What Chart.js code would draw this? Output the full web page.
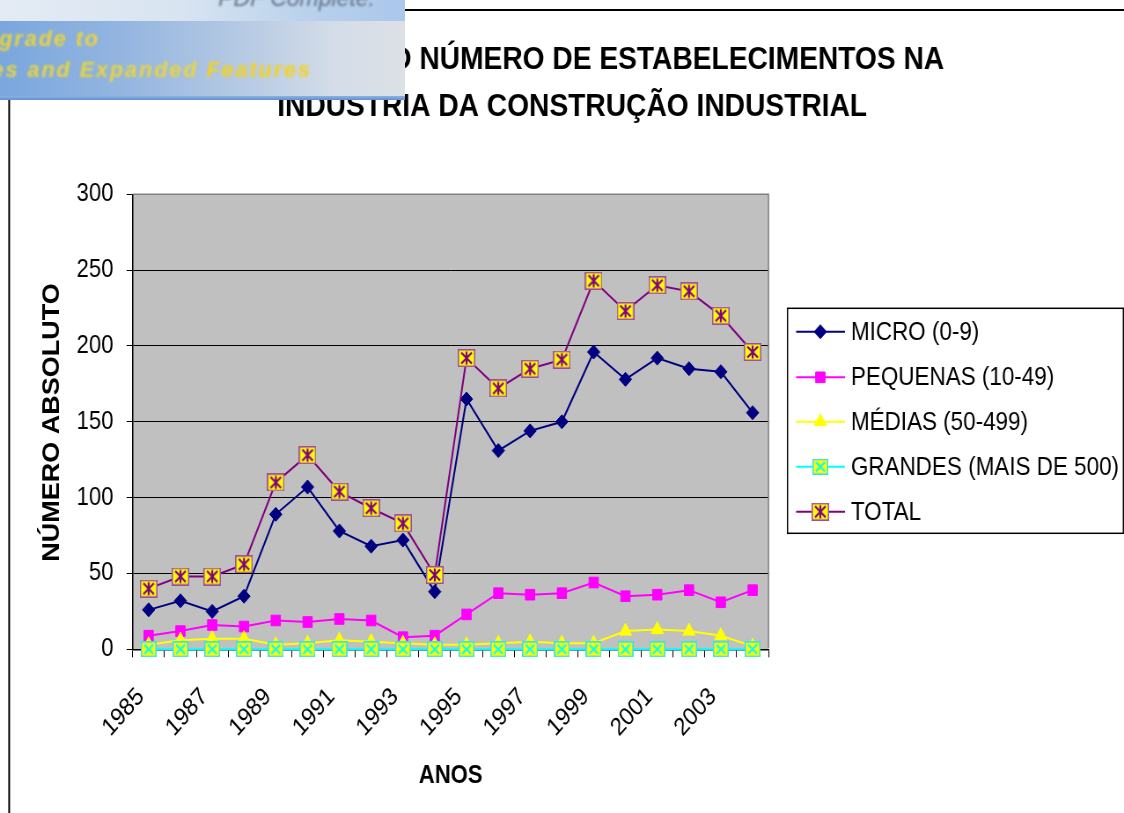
<!DOCTYPE html>
<html lang="pt">
<head>
<meta charset="utf-8">
<title>Evolução do número de estabelecimentos</title>
<script src="https://cdn.jsdelivr.net/npm/chart.js@4.4.1/dist/chart.umd.min.js"></script>
<style>
  html, body { margin: 0; padding: 0; background: #fff; overflow: hidden; }
  #stage { position: absolute; left: 0; top: 0; width: 1124px; height: 813px; overflow: hidden; }
  /* the whole drawing is laid out on a wider canvas and narrowed horizontally */
  #wrap { position: absolute; left: 0; top: 0; width: 1277px; height: 813px;
          transform: scaleX(0.88019); transform-origin: 0 0; }
  #banner { position: absolute; left: 0; top: 0; width: 405px; height: 100px; overflow: hidden;
            font-family: 'Liberation Sans', Arial, sans-serif; }
  #banner .band-top { position: absolute; left: 0; top: 0; width: 405px; height: 21px;
            background: linear-gradient(to right, #e4ebf4 0%, #d8e4f1 45%, #b6cfec 80%, #abc7ea 100%); }
  #banner .band-mid { position: absolute; left: 0; top: 21px; width: 405px; height: 76px;
            background: linear-gradient(to right, #7aa7de 0%, #93b5e0 30%, #b6cae3 60%, #d3dce8 82%, #dde1e6 100%); }
  #banner .band-low { position: absolute; left: 0; top: 96px; width: 405px; height: 4px;
            background: linear-gradient(to bottom, #8db2e2, #5f90d3); }
  #banner span { position: absolute; white-space: nowrap; filter: blur(0.8px); }
  #banner .pdfc { right: 30px; top: -15px; font-size: 23px; font-style: italic; color: #66768c; }
  #banner .l1 { right: 305px; top: 27px; font-size: 21.5px; font-weight: bold; font-style: italic;
                letter-spacing: 2px; color: #ecd43a; }
  #banner .l2 { right: 93px; top: 58px; font-size: 21.5px; font-weight: bold; font-style: italic;
                letter-spacing: 2px; color: #e9d53e; }
  #banner .l2 b { color: #f4d21e; filter: blur(0.6px); }
</style>
</head>
<body>
<div id="stage">
  <div id="wrap"><canvas id="chart" width="1277" height="813"></canvas></div>
  <div id="banner">
    <div class="band-top"></div>
    <div class="band-mid"></div>
    <div class="band-low"></div>
    <span class="pdfc">PDF Complete.</span>
    <span class="l1">Click Here to upgrade to</span>
    <span class="l2">Unlimited Pages and Expanded <b>Features</b></span>
  </div>
</div>
<script>
// ---- data ----
const years = ['1985', '1986', '1987', '1988', '1989', '1990', '1991', '1992', '1993', '1994',
               '1995', '1996', '1997', '1998', '1999', '2000', '2001', '2002', '2003', '2004'];
const micro    = [26, 32, 25, 35, 89, 107, 78, 68, 72, 38, 165, 131, 144, 150, 196, 178, 192, 185, 183, 156];
const pequenas = [9, 12, 16, 15, 19, 18, 20, 19, 8, 9, 23, 37, 36, 37, 44, 35, 36, 39, 31, 39];
const medias   = [3, 6, 7, 7, 3, 4, 6, 5, 4, 3, 3, 4, 5, 4, 4, 12, 13, 12, 9, 2];
const grandes  = [0, 0, 0, 0, 0, 0, 0, 0, 0, 0, 0, 0, 0, 0, 0, 0, 0, 0, 0, 0];
const total    = [40, 48, 48, 56, 110, 128, 104, 93, 83, 49, 192, 172, 185, 191, 243, 223, 240, 236, 220, 196];
const seriesNames = ['MICRO (0-9)', 'PEQUENAS (10-49)', 'MÉDIAS (50-499)', 'GRANDES (MAIS DE 500)', 'TOTAL'];
const yTickValues = [0, 50, 100, 150, 200, 250, 300];
const titleLines = ['EVOLUÇÃO DO NÚMERO DE ESTABELECIMENTOS NA', 'INDÚSTRIA DA CONSTRUÇÃO INDUSTRIAL'];
const xTitle = 'ANOS';
const yTitle = 'NÚMERO ABSOLUTO';

const FONT = "'Liberation Sans', Arial, Helvetica, sans-serif";
const W = 1277, H = 813;

// square markers with a cross (and an optional vertical bar)
function boxMarker(w, h, fill, edge, cross, bar) {
  const c = document.createElement('canvas');
  c.width = w; c.height = h;
  const g = c.getContext('2d');
  g.fillStyle = fill;
  g.fillRect(0, 0, w, h);
  g.strokeStyle = edge;
  g.lineWidth = 1.5;
  g.strokeRect(0.75, 0.75, w - 1.5, h - 1.5);
  g.strokeStyle = cross;
  g.lineWidth = 2.2;
  g.beginPath();
  g.moveTo(4, 3.5); g.lineTo(w - 4, h - 3.5);
  g.moveTo(w - 4, 3.5); g.lineTo(4, h - 3.5);
  if (bar) { g.moveTo(w / 2, 2.5); g.lineTo(w / 2, h - 2.5); }
  g.stroke();
  return c;
}
const grandesMark = boxMarker(18, 16, '#FFFF00', '#33E6E6', '#00FFFF', false);
const totalMark = boxMarker(20, 18, '#FFFF00', '#A04CA0', '#800080', true);

const datasets = [
  { label: seriesNames[0], data: micro, borderColor: '#000080', backgroundColor: '#000080',
    pointStyle: 'rectRot', pointRadius: 7, order: 4 },
  { label: seriesNames[1], data: pequenas, borderColor: '#FF00FF', backgroundColor: '#FF00FF',
    pointStyle: 'rect', pointRadius: 7.5, order: 3 },
  { label: seriesNames[2], data: medias, borderColor: '#FFFF00', backgroundColor: '#FFFF00',
    pointStyle: 'triangle', pointRadius: 8, order: 2 },
  { label: seriesNames[3], data: grandes, borderColor: '#00FFFF', backgroundColor: '#FFFF00',
    pointStyle: grandesMark, pointRadius: 9, order: 1 },
  { label: seriesNames[4], data: total, borderColor: '#800080', backgroundColor: '#FFFF00',
    pointStyle: totalMark, pointRadius: 10, order: 0 }
].map(d => Object.assign({
  borderWidth: 2, pointBorderWidth: 1, pointBorderColor: d.borderColor,
  pointBackgroundColor: d.backgroundColor, tension: 0, clip: false, fill: false
}, d));

// plot fill, border and the outer frame
const framePlugin = {
  id: 'frame',
  beforeDraw(chart) {
    const { ctx, chartArea: a } = chart;
    ctx.save();
    ctx.fillStyle = '#fff';
    ctx.fillRect(0, 0, W, H);
    ctx.fillStyle = '#C0C0C0';
    ctx.fillRect(a.left, a.top, a.right - a.left, a.bottom - a.top);
    ctx.restore();
  },
  afterDraw(chart) {
    const { ctx, chartArea: a } = chart;
    ctx.save();
    // grey border on top and right of the plot
    ctx.strokeStyle = '#808080';
    ctx.lineWidth = 1.5;
    ctx.beginPath();
    ctx.moveTo(a.left, a.top); ctx.lineTo(a.right, a.top); ctx.lineTo(a.right, a.bottom - 1);
    ctx.stroke();
    // outer frame
    ctx.strokeStyle = '#000';
    ctx.lineWidth = 2;
    ctx.beginPath();
    ctx.moveTo(10.4, H + 5); ctx.lineTo(10.4, 10); ctx.lineTo(W + 5, 10);
    ctx.stroke();
    ctx.restore();
  }
};

// title and axis titles
const textPlugin = {
  id: 'texts',
  afterDraw(chart) {
    const { ctx, chartArea: a } = chart;
    ctx.save();
    ctx.fillStyle = '#000';
    ctx.textAlign = 'center';
    ctx.textBaseline = 'alphabetic';
    ctx.font = 'bold 32px ' + FONT;
    ctx.fillText(titleLines[0], 651, 69);
    ctx.fillText(titleLines[1], 650, 116);
    ctx.font = 'bold 25px ' + FONT;
    ctx.fillText(xTitle, (a.left + a.right) / 2, 783);
    ctx.translate(60, 422.5);
    ctx.rotate(-Math.PI / 2);
    ctx.textBaseline = 'middle';
    ctx.font = 'bold 27px ' + FONT;
    ctx.fillText(yTitle, 0, 0);
    ctx.restore();
  }
};

function drawLegendMark(ctx, ds, x, y) {
  const st = ds.pointStyle;
  if (typeof st !== 'string') {
    ctx.drawImage(st, x - st.width / 2, y - st.height / 2);
    return;
  }
  ctx.fillStyle = ds.backgroundColor;
  ctx.strokeStyle = ds.borderColor;
  ctx.lineWidth = 1;
  const r = ds.pointRadius;
  ctx.beginPath();
  if (st === 'rectRot') {
    ctx.moveTo(x - r, y); ctx.lineTo(x, y - r); ctx.lineTo(x + r, y); ctx.lineTo(x, y + r);
  } else if (st === 'rect') {
    const s = r * Math.SQRT1_2;
    ctx.rect(x - s, y - s, 2 * s, 2 * s);
  } else if (st === 'triangle') {
    ctx.moveTo(x, y - r);
    ctx.lineTo(x + r * Math.sin(2 * Math.PI / 3), y - r * Math.cos(2 * Math.PI / 3));
    ctx.lineTo(x + r * Math.sin(4 * Math.PI / 3), y - r * Math.cos(4 * Math.PI / 3));
  }
  ctx.closePath();
  ctx.fill();
  ctx.stroke();
}

// boxed legend at the right
const legendPlugin = {
  id: 'boxLegend',
  afterDraw(chart) {
    const { ctx } = chart;
    const box = { left: 894.7, top: 308.3, right: 1276.3, bottom: 533.3 };
    const rows = [331.7, 377.3, 421.7, 466.7, 511.7];
    ctx.save();
    ctx.strokeStyle = '#000';
    ctx.lineWidth = 1.5;
    ctx.strokeRect(box.left, box.top, box.right - box.left, box.bottom - box.top);
    chart.data.datasets.forEach((ds, i) => {
      const y = rows[i];
      ctx.strokeStyle = ds.borderColor;
      ctx.lineWidth = 2;
      ctx.beginPath();
      ctx.moveTo(904.5, y); ctx.lineTo(960, y);
      ctx.stroke();
      drawLegendMark(ctx, ds, 932, y);
      ctx.fillStyle = '#000';
      ctx.font = '25.5px ' + FONT;
      ctx.textAlign = 'left';
      ctx.textBaseline = 'middle';
      ctx.fillText(ds.label, 966.7, y + 1);
    });
    ctx.restore();
  }
};

new Chart(document.getElementById('chart'), {
  type: 'line',
  data: { labels: years, datasets },
  plugins: [framePlugin, textPlugin, legendPlugin],
  options: {
    responsive: false,
    animation: false,
    devicePixelRatio: 1,
    layout: { padding: { left: 0, top: 194.3, right: 403.9, bottom: 0 } },
    plugins: { legend: { display: false }, title: { display: false }, tooltip: { enabled: false } },
    scales: {
      x: {
        type: 'category',
        offset: true,
        grid: { display: true, drawOnChartArea: false, drawTicks: true, tickLength: 8,
                color: '#000', lineWidth: 1, offset: true },
        border: { display: true, color: '#000', width: 1.5 },
        ticks: {
          autoSkip: false, maxRotation: 45, minRotation: 45, padding: 25, labelOffset: -9,
          color: '#000', font: { family: FONT, size: 25 },
          callback: (v, i) => (i % 2 === 0 ? years[i] : '')
        },
        afterFit: s => { s.height = H - 649.3; }
      },
      y: {
        min: 0, max: 300,
        afterBuildTicks: s => { s.ticks = yTickValues.map(v => ({ value: v })); },
        grid: { color: c => (c.tick && c.tick.value === 300 ? '#808080' : '#000'),
                lineWidth: 1, drawTicks: true, tickLength: 7, tickColor: '#000' },
        border: { display: true, color: '#000', width: 1.5 },
        ticks: { padding: 15, color: '#000', font: { family: FONT, size: 25 } },
        afterFit: s => { s.width = 150.8; }
      }
    }
  }
});
</script>
</body>
</html>
